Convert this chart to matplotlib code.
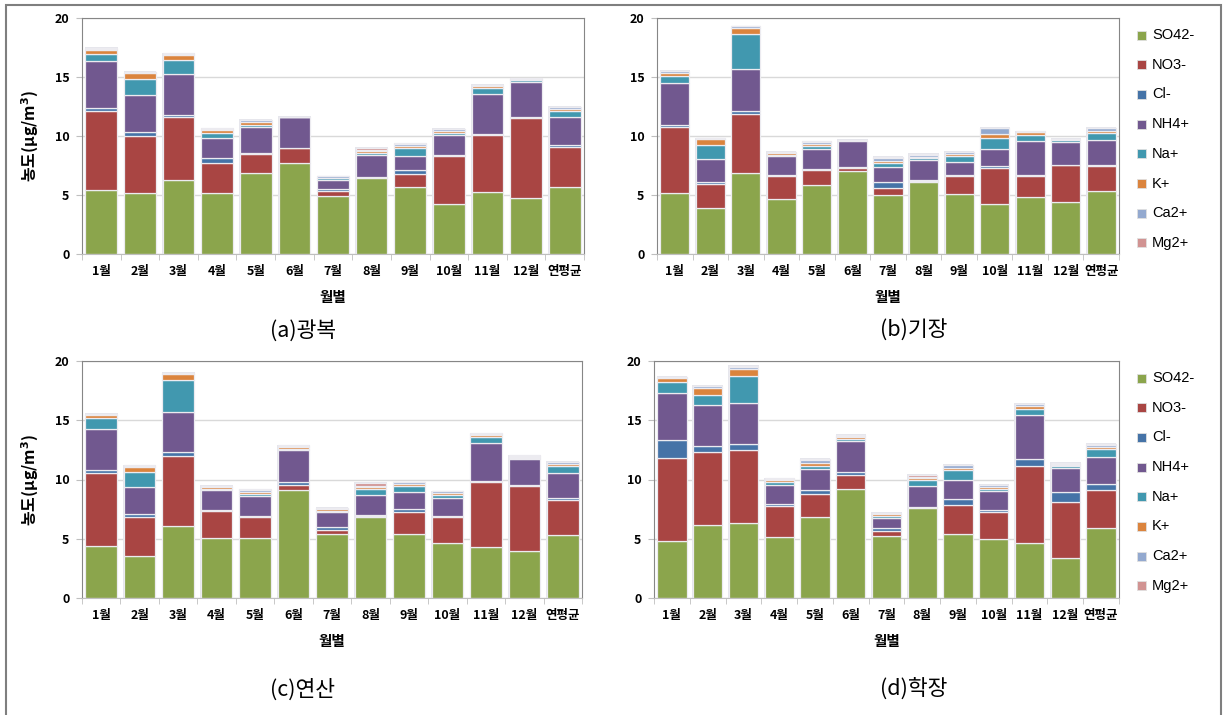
import numpy as np
import matplotlib
matplotlib.use("Agg")
import matplotlib.pyplot as plt
from matplotlib.patches import Rectangle

plt.rcParams['font.family'] = ['Noto Sans CJK KR', 'DejaVu Sans']

months = ['1월', '2월', '3월', '4월', '5월', '6월', '7월', '8월', '9월',
          '10월', '11월', '12월', '연평균']
ions = ['SO42-', 'NO3-', 'Cl-', 'NH4+', 'Na+', 'K+', 'Ca2+', 'Mg2+']
colors = ['#8BA54C', '#A94543', '#4573A7', '#71588F',
          '#4198AF', '#DB843D', '#93A9CF', '#D19392']

# rows follow the order of ions, columns follow months
gwangbok = [
    [5.4, 5.2, 6.25, 5.2, 6.85, 7.75, 4.9, 6.4, 5.7, 4.25, 5.25, 4.75, 5.7],
    [6.75, 4.8, 5.4, 2.55, 1.65, 1.2, 0.45, 0.1, 1.05, 4.05, 4.8, 6.8, 3.35],
    [0.22, 0.3, 0.17, 0.4, 0.08, 0.03, 0.2, 0.05, 0.33, 0.1, 0.08, 0.1, 0.2],
    [3.98, 3.15, 3.47, 1.7, 2.15, 2.6, 0.75, 1.8, 1.2, 1.65, 3.45, 2.9, 2.4],
    [0.64, 1.35, 1.18, 0.4, 0.22, 0.02, 0.1, 0.22, 0.68, 0.22, 0.45, 0.17, 0.48],
    [0.34, 0.55, 0.4, 0.25, 0.25, 0.02, 0.05, 0.15, 0.2, 0.17, 0.17, 0.03, 0.2],
    [0.08, 0.05, 0.1, 0.12, 0.15, 0.02, 0.12, 0.1, 0.2, 0.15, 0.12, 0.12, 0.12],
    [0.05, 0.03, 0.03, 0.03, 0.03, 0.01, 0.03, 0.2, 0.03, 0.03, 0.03, 0.03, 0.03],
]
gijang = [
    [5.15, 3.9, 6.85, 4.65, 5.85, 7.0, 5.0, 6.1, 5.08, 4.25, 4.8, 4.38, 5.3],
    [5.6, 2.05, 5.05, 2.0, 1.27, 0.28, 0.6, 0.05, 1.5, 3.05, 1.78, 3.13, 2.12],
    [0.15, 0.12, 0.25, 0.05, 0.05, 0.12, 0.5, 0.08, 0.1, 0.12, 0.1, 0.05, 0.15],
    [3.55, 2.0, 3.5, 1.6, 1.75, 2.17, 1.25, 1.72, 1.12, 1.45, 2.92, 1.95, 2.05],
    [0.65, 1.15, 3.0, 0.05, 0.2, 0.05, 0.35, 0.15, 0.5, 0.93, 0.5, 0.17, 0.6],
    [0.27, 0.52, 0.5, 0.2, 0.2, 0.02, 0.2, 0.15, 0.15, 0.4, 0.22, 0.03, 0.2],
    [0.12, 0.05, 0.13, 0.07, 0.2, 0.02, 0.22, 0.1, 0.2, 0.45, 0.05, 0.05, 0.22],
    [0.03, 0.03, 0.03, 0.02, 0.03, 0.01, 0.1, 0.12, 0.03, 0.03, 0.03, 0.02, 0.04],
]
yeonsan = [
    [4.4, 3.57, 6.05, 5.05, 5.05, 9.15, 5.43, 6.85, 5.43, 4.6, 4.28, 3.97, 5.34],
    [6.15, 3.3, 5.95, 2.33, 1.78, 0.4, 0.3, 0.1, 1.85, 2.25, 5.48, 5.5, 2.93],
    [0.25, 0.25, 0.28, 0.05, 0.12, 0.28, 0.25, 0.08, 0.22, 0.1, 0.13, 0.1, 0.2],
    [3.42, 2.28, 3.4, 1.65, 1.65, 2.65, 1.27, 1.66, 1.46, 1.53, 3.2, 2.17, 2.1],
    [0.98, 1.22, 2.72, 0.14, 0.17, 0.1, 0.13, 0.5, 0.48, 0.2, 0.5, 0.1, 0.6],
    [0.28, 0.45, 0.48, 0.14, 0.17, 0.14, 0.1, 0.2, 0.14, 0.14, 0.2, 0.03, 0.16],
    [0.05, 0.1, 0.1, 0.1, 0.2, 0.14, 0.12, 0.08, 0.17, 0.17, 0.08, 0.13, 0.15],
    [0.02, 0.03, 0.02, 0.03, 0.03, 0.03, 0.02, 0.25, 0.03, 0.03, 0.02, 0.05, 0.03],
]
hakjang = [
    [4.8, 6.17, 6.3, 5.18, 6.87, 9.23, 5.22, 7.58, 5.44, 4.99, 4.68, 3.41, 5.89],
    [6.98, 6.12, 6.15, 2.55, 1.88, 1.12, 0.42, 0.06, 2.45, 2.3, 6.45, 4.65, 3.26],
    [1.52, 0.5, 0.54, 0.2, 0.4, 0.28, 0.25, 0.08, 0.5, 0.14, 0.62, 0.9, 0.48],
    [4.0, 3.5, 3.45, 1.63, 1.77, 2.64, 0.84, 1.77, 1.53, 1.63, 3.66, 2.03, 2.29],
    [0.95, 0.87, 2.33, 0.25, 0.25, 0.14, 0.23, 0.43, 0.84, 0.17, 0.53, 0.16, 0.62],
    [0.3, 0.56, 0.56, 0.17, 0.23, 0.14, 0.1, 0.19, 0.2, 0.14, 0.26, 0.05, 0.22],
    [0.1, 0.15, 0.17, 0.1, 0.28, 0.14, 0.11, 0.12, 0.25, 0.14, 0.17, 0.12, 0.17],
    [0.03, 0.03, 0.1, 0.03, 0.07, 0.1, 0.03, 0.16, 0.05, 0.03, 0.03, 0.1, 0.06],
]

W, H = 1225, 715
fig = plt.figure(figsize=(W / 100, H / 100), dpi=100)
fig.patch.set_facecolor('white')

# outer frame around the whole figure
fig.patches.append(Rectangle((6 / W, -0.01), (1221 - 6) / W, 1 - 5 / H + 0.01,
                             transform=fig.transFigure, fill=False,
                             edgecolor='#7f7f7f', linewidth=1.5))


def px_axes(x0, x1, y_top, y_bot):
    return fig.add_axes([x0 / W, 1 - y_bot / H, (x1 - x0) / W, (y_bot - y_top) / H])


def draw_panel(ax, data, ylabel):
    data = np.array(data)
    x = np.arange(len(months))
    totals = data.sum(axis=0)
    # soft halo behind every stack
    ax.bar(x, totals + 0.05, width=0.85, color='#e6e6ec', zorder=1.5, linewidth=0)
    bottom = np.zeros(len(months))
    for vals, c in zip(data, colors):
        ax.bar(x, vals, bottom=bottom, width=0.82, color=c,
               edgecolor='#ecebf0', linewidth=0.9, zorder=2)
        bottom += vals
    ax.set_xlim(-0.5, len(months) - 0.5)
    ax.set_ylim(0, 20)
    ax.set_yticks([0, 5, 10, 15, 20])
    ax.grid(axis='y', color='#d9d9d9', linewidth=1, zorder=0)
    ax.set_axisbelow(True)
    for s in ['top', 'right', 'left']:
        ax.spines[s].set_color('#868686')
    ax.spines['bottom'].set_color('#bfbfbf')
    ax.set_xticks(x)
    ax.set_xticklabels(months, fontsize=9, fontweight='bold')
    ax.set_xticks(np.arange(len(months) + 1) - 0.5, minor=True)
    ax.tick_params(axis='x', which='major', length=0, pad=8)
    ax.tick_params(axis='x', which='minor', length=4, color='#bfbfbf')
    ax.tick_params(axis='y', length=4, color='#bfbfbf', labelsize=9, pad=5)
    for t in ax.get_yticklabels():
        t.set_fontweight('bold')
    ax.set_xlabel('월별', fontsize=10.5, fontweight='bold', labelpad=8)
    if ylabel:
        ax.set_ylabel('농도(μg/m$^\\mathbf{3}$)', fontsize=11.5, fontweight='bold',
                      labelpad=10)


def draw_legend(y0):
    for i, (name, c) in enumerate(zip(ions, colors)):
        y = y0 + i * 29.7
        fig.patches.append(Rectangle((1137 / W, 1 - (y + 4.5) / H), 9 / W, 9 / H,
                                     transform=fig.transFigure, facecolor=c,
                                     edgecolor='#e0e0e0', linewidth=0.6))
        fig.text(1152 / W, 1 - y / H, name, fontsize=10.5, va='center',
                 family=['Liberation Sans', 'DejaVu Sans'])


ax_a = px_axes(82, 584, 18, 254)
draw_panel(ax_a, gwangbok, True)
ax_b = px_axes(657, 1119, 18, 254)
draw_panel(ax_b, gijang, False)
ax_c = px_axes(82, 582, 361, 598)
draw_panel(ax_c, yeonsan, True)
ax_d = px_axes(654, 1119, 361, 598)
draw_panel(ax_d, hakjang, False)

draw_legend(35)
draw_legend(378)

fig.text(303 / W, 1 - 331 / H, '(a)광복', fontsize=15.5, ha='center', va='center')
fig.text(914 / W, 1 - 331 / H, '(b)기장', fontsize=15.5, ha='center', va='center')
fig.text(303 / W, 1 - 690 / H, '(c)연산', fontsize=15.5, ha='center', va='center')
fig.text(914 / W, 1 - 689 / H, '(d)학장', fontsize=15.5, ha='center', va='center')

fig.savefig('out.png', dpi=100)
